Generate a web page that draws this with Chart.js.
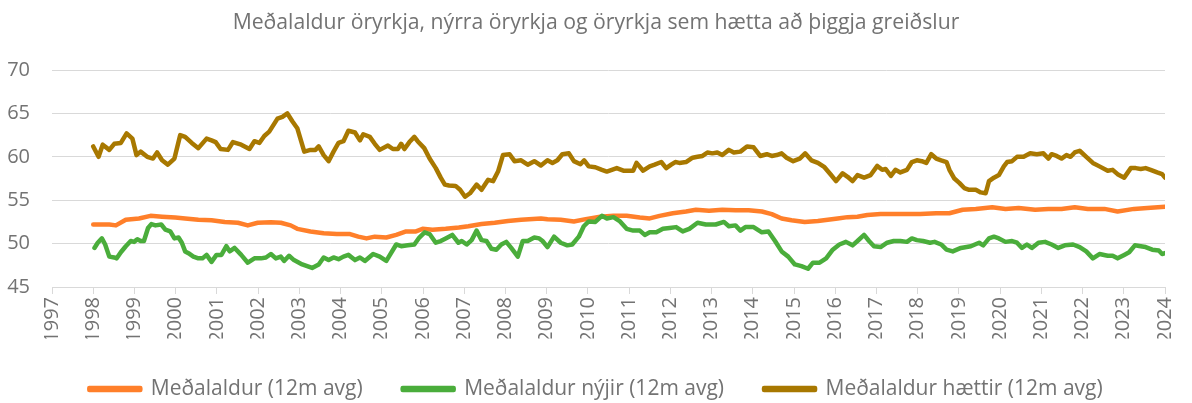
<!DOCTYPE html>
<html lang="is">
<head>
<meta charset="utf-8">
<title>Meðalaldur öryrkja</title>
<script src="https://cdn.jsdelivr.net/npm/chart.js@4.4.1/dist/chart.umd.min.js"></script>
<style>
  html, body { margin: 0; padding: 0; background: #fff; }
  #wrap { width: 1192px; height: 403px; position: relative; }
</style>
</head>
<body>
<div id="wrap"><canvas id="chartAldur"></canvas></div>
<script>
// ══════════════════════════════════════════════════════════════
//  Meðalaldur öryrkja – 12 mánaða meðaltöl, 1998–2024
// ══════════════════════════════════════════════════════════════

// ─── Gögn (ár, aldur) – lesið af myndinni ──────────────────────
const TITLE = 'Meðalaldur öryrkja, nýrra öryrkja og öryrkja sem hætta að þiggja greiðslur';
const LABELS = ['Meðalaldur (12m avg)', 'Meðalaldur nýjir (12m avg)', 'Meðalaldur hættir (12m avg)'];
const X_MIN = 1997, X_MAX = 2024;
const Y_MIN = 45, Y_MAX = 70, Y_STEP = 5;

const medalaldur = [
  [1998.00, 52.2], [1998.39, 52.2], [1998.55, 52.1], [1998.79, 52.75], [1999.11, 52.9],
  [1999.39, 53.2], [1999.67, 53.1], [1999.99, 53.0], [2000.23, 52.9], [2000.55, 52.75],
  [2000.87, 52.7], [2001.19, 52.5], [2001.51, 52.4], [2001.75, 52.1], [2001.99, 52.4],
  [2002.31, 52.45], [2002.55, 52.4], [2002.79, 52.1], [2002.95, 51.7], [2003.27, 51.4],
  [2003.59, 51.2], [2003.91, 51.1], [2004.23, 51.1], [2004.43, 50.8], [2004.63, 50.6],
  [2004.83, 50.8], [2005.11, 50.7], [2005.35, 51.0], [2005.59, 51.4], [2005.83, 51.4],
  [2005.99, 51.7], [2006.23, 51.6], [2006.55, 51.7], [2006.87, 51.85], [2007.10, 52.0],
  [2007.42, 52.25], [2007.74, 52.4], [2008.06, 52.6], [2008.38, 52.75], [2008.86, 52.9],
  [2009.02, 52.8], [2009.34, 52.75], [2009.66, 52.55], [2009.98, 52.85], [2010.30, 53.1],
  [2010.62, 53.2], [2010.94, 53.2], [2011.26, 53.0], [2011.50, 52.9], [2011.74, 53.2],
  [2012.06, 53.5], [2012.38, 53.7], [2012.62, 53.9], [2012.94, 53.8], [2013.26, 53.9],
  [2013.58, 53.85], [2013.90, 53.85], [2014.22, 53.7], [2014.46, 53.4], [2014.70, 52.9],
  [2014.94, 52.7], [2015.26, 52.5], [2015.58, 52.6], [2015.82, 52.75], [2016.06, 52.9],
  [2016.30, 53.05], [2016.54, 53.1], [2016.78, 53.3], [2017.10, 53.4], [2017.50, 53.4],
  [2018.06, 53.4], [2018.45, 53.5], [2018.77, 53.5], [2019.09, 53.9], [2019.41, 54.0],
  [2019.81, 54.2], [2020.13, 54.0], [2020.45, 54.1], [2020.85, 53.9], [2021.17, 54.0],
  [2021.49, 54.0], [2021.81, 54.2], [2022.13, 54.0], [2022.53, 54.0], [2022.85, 53.7],
  [2023.25, 54.0], [2023.57, 54.1], [2024.00, 54.25],
];

const nyjir = [
  [1998.03, 49.5], [1998.11, 50.1], [1998.21, 50.6], [1998.29, 49.9], [1998.39, 48.5],
  [1998.51, 48.4], [1998.57, 48.3], [1998.67, 49.0], [1998.79, 49.7], [1998.91, 50.3],
  [1998.99, 50.2], [1999.07, 50.5], [1999.15, 50.3], [1999.23, 50.3], [1999.33, 51.8],
  [1999.41, 52.25], [1999.51, 52.1], [1999.65, 52.2], [1999.75, 51.6], [1999.87, 51.4],
  [1999.97, 50.6], [2000.07, 50.7], [2000.15, 50.1], [2000.23, 49.1], [2000.31, 48.9],
  [2000.43, 48.5], [2000.55, 48.3], [2000.65, 48.3], [2000.75, 48.7], [2000.87, 47.9],
  [2000.99, 48.7], [2001.11, 48.7], [2001.23, 49.7], [2001.31, 49.1], [2001.43, 49.5],
  [2001.59, 48.7], [2001.75, 47.8], [2001.91, 48.3], [2002.07, 48.3], [2002.19, 48.4],
  [2002.31, 48.8], [2002.43, 48.3], [2002.55, 48.5], [2002.63, 48.0], [2002.75, 48.6],
  [2002.87, 48.1], [2003.07, 47.6], [2003.31, 47.2], [2003.47, 47.6], [2003.59, 48.4],
  [2003.71, 48.1], [2003.83, 48.4], [2003.95, 48.2], [2004.07, 48.5], [2004.19, 48.7],
  [2004.35, 48.1], [2004.47, 48.4], [2004.59, 48.0], [2004.79, 48.8], [2004.95, 48.5],
  [2005.11, 48.0], [2005.35, 49.9], [2005.47, 49.7], [2005.63, 49.8], [2005.79, 49.9],
  [2005.91, 50.7], [2006.04, 51.3], [2006.16, 51.1], [2006.31, 50.1], [2006.43, 50.3],
  [2006.55, 50.6], [2006.71, 51.0], [2006.86, 50.1], [2006.94, 50.3], [2007.06, 49.9],
  [2007.18, 50.4], [2007.30, 51.5], [2007.42, 50.4], [2007.54, 50.3], [2007.66, 49.4],
  [2007.78, 49.3], [2007.90, 49.9], [2008.02, 50.2], [2008.14, 49.5], [2008.30, 48.5],
  [2008.42, 50.3], [2008.54, 50.3], [2008.70, 50.7], [2008.82, 50.6], [2008.90, 50.3],
  [2009.02, 49.6], [2009.18, 50.8], [2009.34, 50.1], [2009.50, 49.8], [2009.62, 49.9],
  [2009.78, 50.8], [2009.90, 52.0], [2010.02, 52.55], [2010.18, 52.5], [2010.34, 53.2],
  [2010.46, 52.9], [2010.62, 53.05], [2010.78, 52.55], [2010.94, 51.7], [2011.10, 51.5],
  [2011.26, 51.5], [2011.38, 51.0], [2011.50, 51.3], [2011.66, 51.3], [2011.82, 51.7],
  [2011.98, 51.8], [2012.14, 51.9], [2012.30, 51.4], [2012.46, 51.7], [2012.66, 52.4],
  [2012.86, 52.2], [2013.10, 52.2], [2013.30, 52.5], [2013.42, 52.0], [2013.58, 52.1],
  [2013.70, 51.5], [2013.82, 51.9], [2014.02, 51.9], [2014.22, 51.3], [2014.38, 51.4],
  [2014.54, 50.3], [2014.70, 49.1], [2014.86, 48.5], [2015.02, 47.6], [2015.18, 47.4],
  [2015.34, 47.1], [2015.46, 47.8], [2015.62, 47.8], [2015.78, 48.3], [2015.94, 49.3],
  [2016.10, 49.9], [2016.26, 50.2], [2016.42, 49.8], [2016.54, 50.3], [2016.70, 51.0],
  [2016.82, 50.3], [2016.94, 49.7], [2017.10, 49.6], [2017.26, 50.1], [2017.42, 50.3],
  [2017.58, 50.3], [2017.74, 50.2], [2017.86, 50.6], [2017.98, 50.4], [2018.13, 50.3],
  [2018.30, 50.1], [2018.41, 50.2], [2018.57, 49.9], [2018.70, 49.3], [2018.85, 49.1],
  [2019.05, 49.5], [2019.29, 49.7], [2019.49, 50.1], [2019.59, 49.8], [2019.73, 50.6],
  [2019.85, 50.8], [2019.97, 50.6], [2020.13, 50.2], [2020.29, 50.3], [2020.41, 50.1],
  [2020.53, 49.5], [2020.65, 49.9], [2020.77, 49.5], [2020.93, 50.1], [2021.09, 50.2],
  [2021.25, 49.9], [2021.41, 49.5], [2021.57, 49.8], [2021.77, 49.9], [2021.93, 49.6],
  [2022.09, 49.1], [2022.25, 48.3], [2022.41, 48.8], [2022.61, 48.6], [2022.73, 48.6],
  [2022.85, 48.3], [2023.01, 48.7], [2023.13, 49.0], [2023.27, 49.8], [2023.41, 49.7],
  [2023.53, 49.6], [2023.69, 49.3], [2023.85, 49.2], [2023.93, 48.8], [2024.00, 48.9],
];

const haettir = [
  [1998.00, 61.2], [1998.13, 60.0], [1998.23, 61.4], [1998.39, 60.8], [1998.51, 61.5],
  [1998.67, 61.6], [1998.81, 62.7], [1998.95, 62.1], [1999.05, 60.2], [1999.15, 60.6],
  [1999.31, 60.0], [1999.45, 59.8], [1999.55, 60.5], [1999.67, 59.6], [1999.81, 59.1],
  [1999.97, 59.8], [2000.11, 62.5], [2000.23, 62.3], [2000.39, 61.6], [2000.55, 61.0],
  [2000.75, 62.1], [2000.87, 61.9], [2000.97, 61.7], [2001.09, 60.9], [2001.27, 60.8],
  [2001.39, 61.7], [2001.59, 61.4], [2001.79, 60.9], [2001.91, 61.8], [2002.03, 61.6],
  [2002.15, 62.4], [2002.27, 62.9], [2002.47, 64.4], [2002.59, 64.6], [2002.71, 65.0],
  [2002.83, 64.1], [2002.95, 63.3], [2003.12, 60.6], [2003.27, 60.8], [2003.39, 60.8],
  [2003.47, 61.2], [2003.59, 60.2], [2003.71, 59.5], [2003.83, 60.6], [2003.95, 61.6],
  [2004.07, 61.8], [2004.19, 63.0], [2004.35, 62.8], [2004.47, 61.9], [2004.55, 62.6],
  [2004.71, 62.3], [2004.83, 61.5], [2004.95, 60.8], [2005.15, 61.3], [2005.27, 60.9],
  [2005.39, 60.9], [2005.47, 61.5], [2005.55, 60.9], [2005.67, 61.7], [2005.79, 62.3],
  [2005.87, 61.8], [2006.03, 61.0], [2006.16, 59.8], [2006.31, 58.7], [2006.43, 57.6],
  [2006.53, 56.8], [2006.63, 56.7], [2006.79, 56.65], [2006.90, 56.2], [2007.02, 55.4],
  [2007.14, 55.8], [2007.30, 56.8], [2007.42, 56.2], [2007.58, 57.35], [2007.70, 57.2],
  [2007.82, 58.3], [2007.94, 60.2], [2008.10, 60.3], [2008.22, 59.5], [2008.38, 59.6],
  [2008.54, 59.1], [2008.70, 59.5], [2008.86, 59.0], [2009.02, 59.6], [2009.14, 59.3],
  [2009.26, 59.6], [2009.38, 60.3], [2009.54, 60.4], [2009.66, 59.5], [2009.82, 59.15],
  [2009.91, 59.6], [2010.02, 58.9], [2010.18, 58.8], [2010.34, 58.5], [2010.46, 58.3],
  [2010.70, 58.7], [2010.86, 58.4], [2011.10, 58.4], [2011.18, 59.3], [2011.34, 58.4],
  [2011.50, 58.9], [2011.62, 59.1], [2011.78, 59.4], [2011.90, 58.7], [2012.02, 59.1],
  [2012.12, 59.4], [2012.22, 59.3], [2012.38, 59.4], [2012.54, 59.9], [2012.66, 60.0],
  [2012.78, 60.1], [2012.90, 60.5], [2013.02, 60.4], [2013.14, 60.5], [2013.26, 60.2],
  [2013.42, 60.8], [2013.54, 60.5], [2013.70, 60.6], [2013.86, 61.2], [2014.02, 61.1],
  [2014.18, 60.1], [2014.34, 60.3], [2014.46, 60.1], [2014.58, 60.2], [2014.70, 60.4],
  [2014.82, 59.9], [2014.98, 59.5], [2015.14, 59.8], [2015.27, 60.4], [2015.42, 59.6],
  [2015.58, 59.3], [2015.74, 58.8], [2015.90, 57.9], [2016.02, 57.2], [2016.18, 58.1],
  [2016.30, 57.7], [2016.42, 57.2], [2016.54, 57.9], [2016.70, 57.6], [2016.86, 57.9],
  [2017.02, 58.95], [2017.14, 58.5], [2017.22, 58.6], [2017.35, 57.8], [2017.46, 58.5],
  [2017.58, 58.2], [2017.74, 58.5], [2017.86, 59.4], [2017.98, 59.6], [2018.10, 59.5],
  [2018.21, 59.3], [2018.33, 60.3], [2018.45, 59.8], [2018.57, 59.6], [2018.70, 59.4],
  [2018.77, 58.5], [2018.89, 57.5], [2019.01, 57.0], [2019.13, 56.4], [2019.25, 56.2],
  [2019.41, 56.2], [2019.53, 55.9], [2019.65, 55.8], [2019.73, 57.2], [2019.85, 57.6],
  [2019.97, 57.9], [2020.09, 58.9], [2020.17, 59.4], [2020.29, 59.5], [2020.41, 60.0],
  [2020.57, 60.0], [2020.73, 60.4], [2020.89, 60.3], [2021.05, 60.4], [2021.17, 59.8],
  [2021.25, 60.3], [2021.37, 60.1], [2021.49, 59.8], [2021.61, 60.2], [2021.71, 60.0],
  [2021.81, 60.5], [2021.93, 60.7], [2022.09, 60.0], [2022.25, 59.3], [2022.41, 58.9],
  [2022.61, 58.4], [2022.73, 58.5], [2022.85, 58.0], [2023.01, 57.6], [2023.17, 58.7],
  [2023.29, 58.7], [2023.41, 58.6], [2023.53, 58.7], [2023.65, 58.5], [2023.81, 58.2],
  [2023.93, 58.0], [2024.00, 57.6],
];

// ─── Litir ────────────────────────────────────────────────────
const PALETTE = {
  orange: '#ff7f2a',
  green:  '#4aad3b',
  brown:  '#a87800',
  text:   '#737373',
  grid:   '#d9d9d9',
};

Chart.defaults.font.family = "'Open Sans', sans-serif";
Chart.defaults.color       = PALETTE.text;

// ─── Hjálparföll ──────────────────────────────────────────────
const toPoints = arr => arr.map(([x, y]) => ({ x, y }));

function lineSet(label, data, color, order) {
  return {
    label, data: toPoints(data), order,
    borderColor: color, backgroundColor: color,
    borderWidth: 4.5, pointRadius: 0, tension: 0,
    borderCapStyle: 'round', borderJoinStyle: 'round',
  };
}

// ─── Graf ─────────────────────────────────────────────────────
new Chart(document.getElementById('chartAldur'), {
  type: 'line',
  data: {
    datasets: [
      lineSet(LABELS[0], medalaldur, PALETTE.orange, 3),
      lineSet(LABELS[1], nyjir, PALETTE.green, 2),
      lineSet(LABELS[2], haettir, PALETTE.brown, 1),
    ]
  },
  options: {
    responsive: true,
    maintainAspectRatio: false,
    animation: false,
    layout: { padding: { left: 0, right: 0, top: 0, bottom: -6.5 } },
    plugins: {
      title: {
        display: true, text: TITLE, color: PALETTE.text,
        font: { size: 21.2, weight: 'normal' },
        padding: { top: 10, bottom: 34.6 },
      },
      legend: {
        position: 'bottom',
        labels: {
          boxWidth: 51, boxHeight: 2, padding: 40,
          font: { size: 21 }, color: PALETTE.text,
          sort: (a, b) => a.datasetIndex - b.datasetIndex,
        }
      },
      tooltip: { enabled: false },
    },
    scales: {
      x: {
        type: 'linear', min: X_MIN, max: X_MAX,
        ticks: {
          stepSize: 1, autoSkip: false, minRotation: 90, maxRotation: 90,
          padding: 3, font: { size: 20 }, color: PALETTE.text,
          callback: v => String(v),
        },
        grid: { drawOnChartArea: false, drawTicks: true, tickLength: 7, color: PALETTE.grid },
        border: { color: PALETTE.grid, width: 1 },
        afterFit: s => { s.height = 51.5; },
      },
      y: {
        min: Y_MIN, max: Y_MAX,
        ticks: { stepSize: Y_STEP, padding: 22, font: { size: 20 }, color: PALETTE.text },
        grid: { color: PALETTE.grid, drawTicks: false },
        border: { display: false },
        afterFit: s => { s.width = 52; },
      },
      // tómur ás hægra megin, heldur bili við jaðarinn
      yHaegri: {
        position: 'right', min: Y_MIN, max: Y_MAX,
        ticks: { display: false },
        grid: { drawOnChartArea: false, drawTicks: false },
        border: { display: false },
        afterFit: s => { s.width = 14; },
      }
    }
  }
});
</script>
</body>
</html>
